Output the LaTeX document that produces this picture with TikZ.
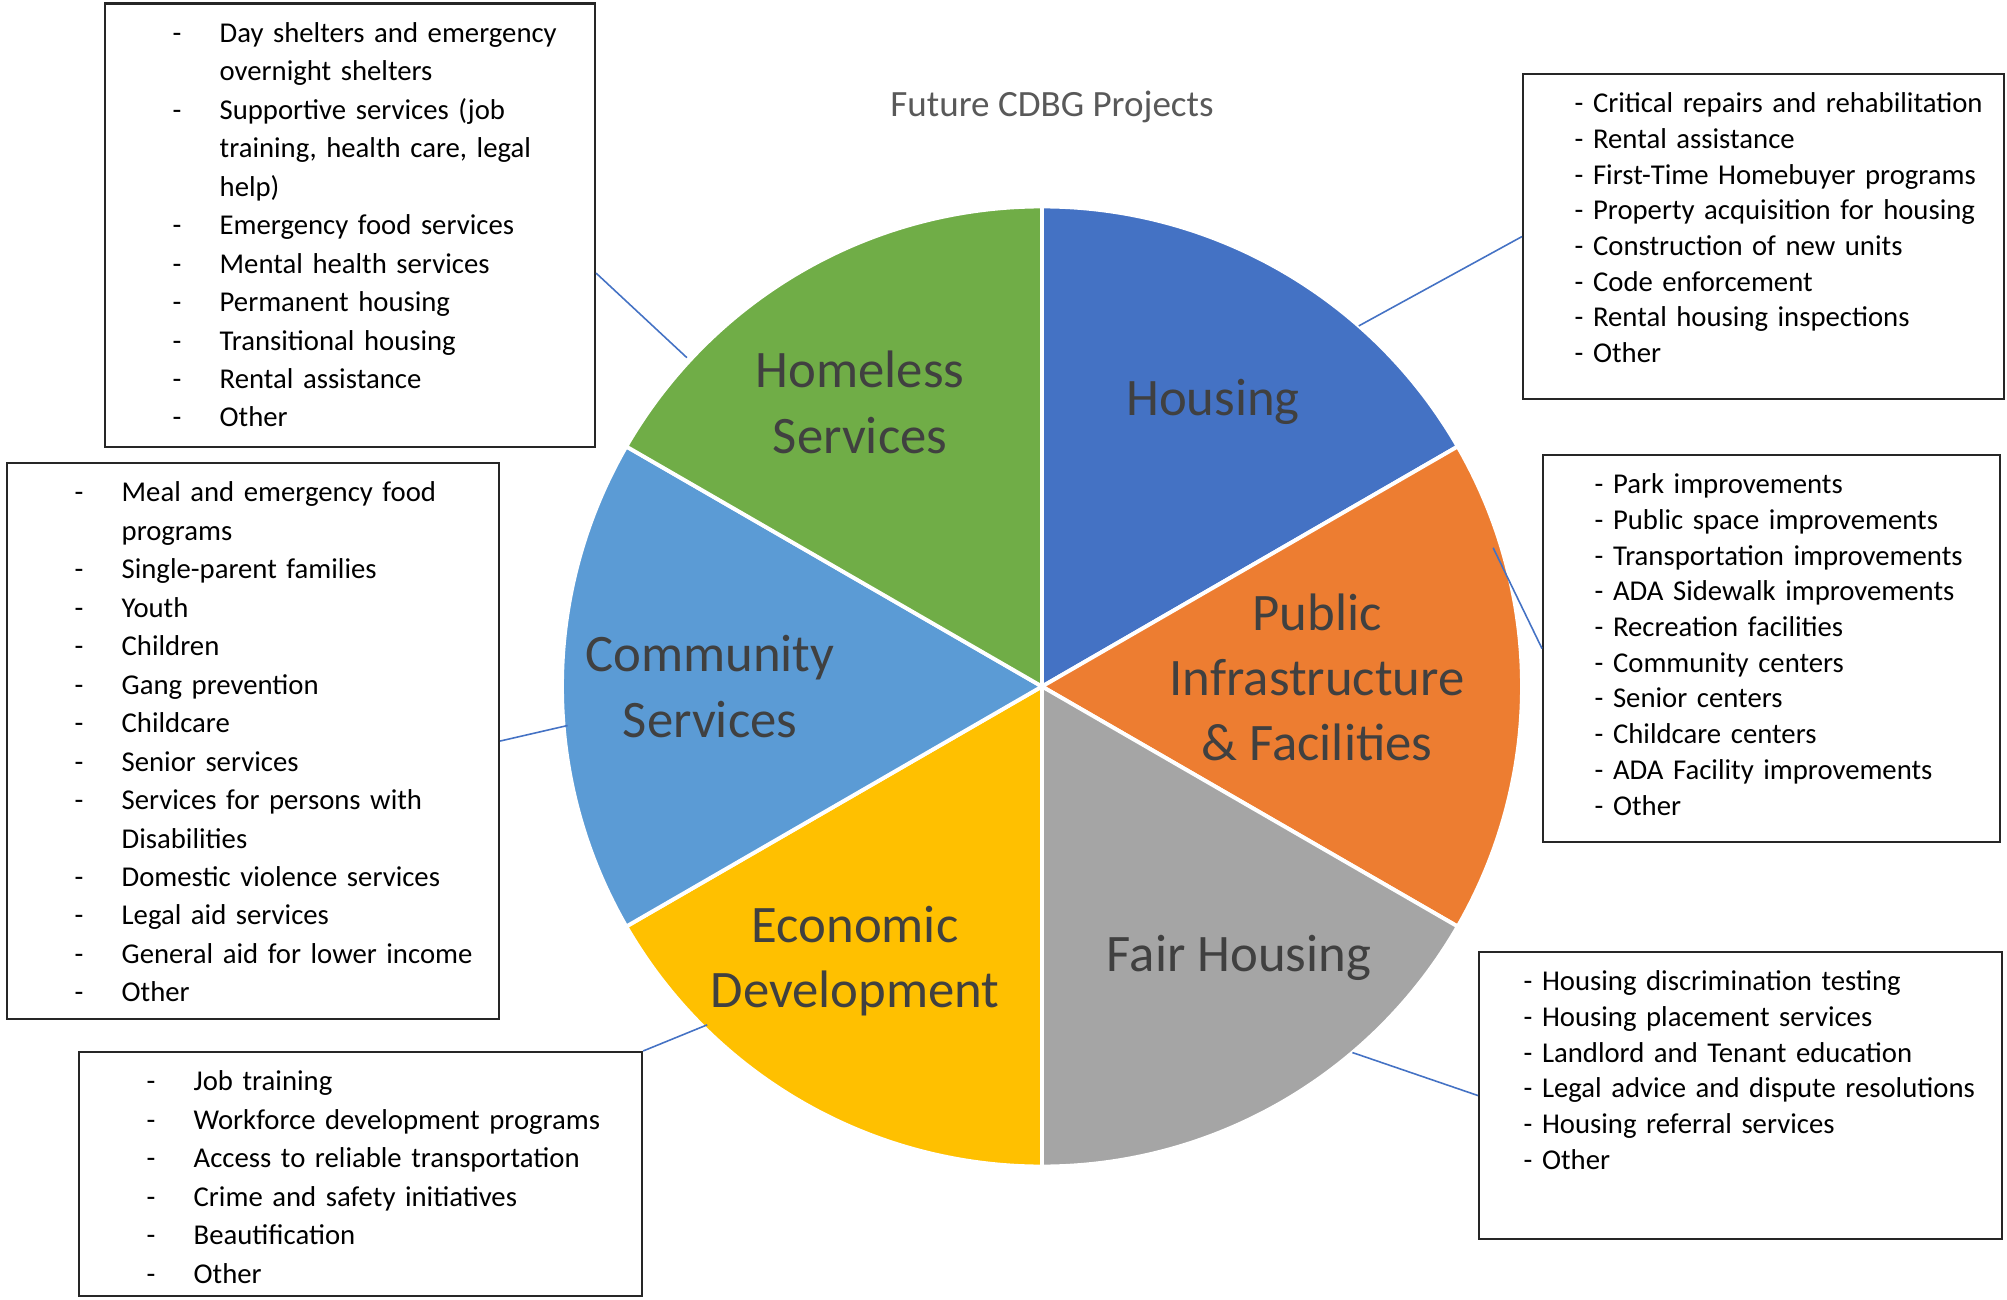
\documentclass[tikz,border=0pt]{standalone}
\usepackage{fontspec}
\setmainfont{Carlito}
\usetikzlibrary{positioning}

\definecolor{housingblue}{HTML}{4472C4}
\definecolor{infraorange}{HTML}{ED7D31}
\definecolor{fairgray}{HTML}{A5A5A5}
\definecolor{econgold}{HTML}{FFC000}
\definecolor{commblue}{HTML}{5B9BD5}
\definecolor{homelessgreen}{HTML}{70AD47}
\definecolor{labelgray}{HTML}{404040}
\definecolor{titlegray}{HTML}{595959}

\newcommand{\pieradius}{4.80}
\newcommand{\titlefont}{\fontsize{10.55pt}{12.5pt}\selectfont}
\newcommand{\piefont}{\fontsize{15pt}{18.6pt}\selectfont}
\newcommand{\compactlist}{\fontsize{8.17pt}{10.16pt}\selectfont}
\newcommand{\widelist}{\fontsize{8.17pt}{10.95pt}\selectfont}
\newcommand{\dashitem}[1]{\strut\makebox[0.47cm][l]{-}#1}
\newcommand{\dashmore}[1]{\strut\hspace*{0.47cm}#1}

\begin{document}
\begin{tikzpicture}[font=\piefont]
    \tikzset{
        sector/.style={draw=white, line width=1.1pt, line join=round},
        pielabel/.style={text=labelgray, align=center, font=\piefont},
        listbox/.style={rectangle, draw=black!85, line width=0.6pt,
                        inner sep=0pt, anchor=north west},
        dashlist/.style={inner sep=0pt, text width=6cm, align=left, font=\widelist},
        plainlist/.style={inner sep=0pt, text width=6cm, align=left, font=\compactlist},
        leader/.style={draw=housingblue, line width=0.45pt}
    }
    \useasboundingbox (-10.42,-6.125) rectangle (9.65,6.865);

    % the six slices, clockwise from the top
    \foreach \a/\b/\c in {90/30/housingblue, 30/-30/infraorange, -30/-90/fairgray,
                          -90/-150/econgold, -150/-210/commblue, -210/-270/homelessgreen}
        \filldraw[sector, fill=\c] (0,0) -- (\a:\pieradius)
            arc[start angle=\a, end angle=\b, radius=\pieradius] -- cycle;

    \node[pielabel] (hslabel) at (-1.82,2.84) {Homeless\\Services};
    \node[pielabel] (holabel) at (1.71,2.845) {Housing};
    \node[pielabel] (pilabel) at (2.75,0.09) {Public\\Infrastructure\\\& Facilities};
    \node[pielabel] (fhlabel) at (1.97,-2.715) {Fair Housing};
    \node[pielabel] (edlabel) at (-1.87,-2.745) {Economic\\Development};
    \node[pielabel] (cslabel) at (-3.32,0.00) {Community\\Services};

    \node[text=titlegray, font=\titlefont] (title) at (0.10,5.80) {Future CDBG Projects};

    % project lists
    \node[listbox, minimum width=4.90cm, minimum height=4.435cm] (hsbox) at (-9.38,6.84) {};
    \node[dashlist, below right=0.12cm and 0.68cm of hsbox.north west] (hslist) {
        \dashitem{Day shelters and emergency}\\
        \dashmore{overnight shelters}\\
        \dashitem{Supportive services (job}\\
        \dashmore{training, health care, legal}\\
        \dashmore{help)}\\
        \dashitem{Emergency food services}\\
        \dashitem{Mental health services}\\
        \dashitem{Permanent housing}\\
        \dashitem{Transitional housing}\\
        \dashitem{Rental assistance}\\
        \dashitem{Other}};

    \node[listbox, minimum width=4.81cm, minimum height=3.25cm] (hobox) at (4.80,6.135) {};
    \node[plainlist, below right=0.14cm and 0.52cm of hobox.north west] (holist) {
        \strut- Critical repairs and rehabilitation\\
        - Rental assistance\\
        - First-Time Homebuyer programs\\
        - Property acquisition for housing\\
        - Construction of new units\\
        - Code enforcement\\
        - Rental housing inspections\\
        - Other};

    \node[listbox, minimum width=4.57cm, minimum height=3.87cm] (pibox) at (5.00,2.325) {};
    \node[plainlist, below right=0.14cm and 0.52cm of pibox.north west] (pilist) {
        \strut- Park improvements\\
        - Public space improvements\\
        - Transportation improvements\\
        - ADA Sidewalk improvements\\
        - Recreation facilities\\
        - Community centers\\
        - Senior centers\\
        - Childcare centers\\
        - ADA Facility improvements\\
        - Other};

    \node[listbox, minimum width=5.23cm, minimum height=2.87cm] (fhbox) at (4.36,-2.645) {};
    \node[plainlist, below right=0.14cm and 0.45cm of fhbox.north west] (fhlist) {
        \strut- Housing discrimination testing\\
        - Housing placement services\\
        - Landlord and Tenant education\\
        - Legal advice and dispute resolutions\\
        - Housing referral services\\
        - Other};

    \node[listbox, minimum width=4.92cm, minimum height=5.56cm] (csbox) at (-10.36,2.245) {};
    \node[dashlist, below right=0.12cm and 0.68cm of csbox.north west] (cslist) {
        \dashitem{Meal and emergency food}\\
        \dashmore{programs}\\
        \dashitem{Single-parent families}\\
        \dashitem{Youth}\\
        \dashitem{Children}\\
        \dashitem{Gang prevention}\\
        \dashitem{Childcare}\\
        \dashitem{Senior services}\\
        \dashitem{Services for persons with}\\
        \dashmore{Disabilities}\\
        \dashitem{Domestic violence services}\\
        \dashitem{Legal aid services}\\
        \dashitem{General aid for lower income}\\
        \dashitem{Other}};

    \node[listbox, minimum width=5.63cm, minimum height=2.44cm] (edbox) at (-9.64,-3.645) {};
    \node[dashlist, below right=0.12cm and 0.68cm of edbox.north west] (edlist) {
        \dashitem{Job training}\\
        \dashitem{Workforce development programs}\\
        \dashitem{Access to reliable transportation}\\
        \dashitem{Crime and safety initiatives}\\
        \dashitem{Beautification}\\
        \dashitem{Other}};

    % leader lines from each list to its slice
    \coordinate (hsrim) at (137.2:4.84);
    \coordinate (horim) at (48.7:4.80);
    \coordinate (pirim) at (17.1:4.72);
    \coordinate (fhrim) at (-49.7:4.80);
    \coordinate (edrim) at (225.3:4.76);
    \coordinate (csrim) at (184.7:4.76);
    \draw[leader] (hsbox.-11.8) -- (hsrim);
    \draw[leader] (hobox.west) -- (horim);
    \draw[leader] (pibox.west) -- (pirim);
    \draw[leader] (fhbox.west) -- (fhrim);
    \draw[leader] (edbox.north east) -- (edrim);
    \draw[leader] (csbox.east) -- (csrim);
\end{tikzpicture}
\end{document}
